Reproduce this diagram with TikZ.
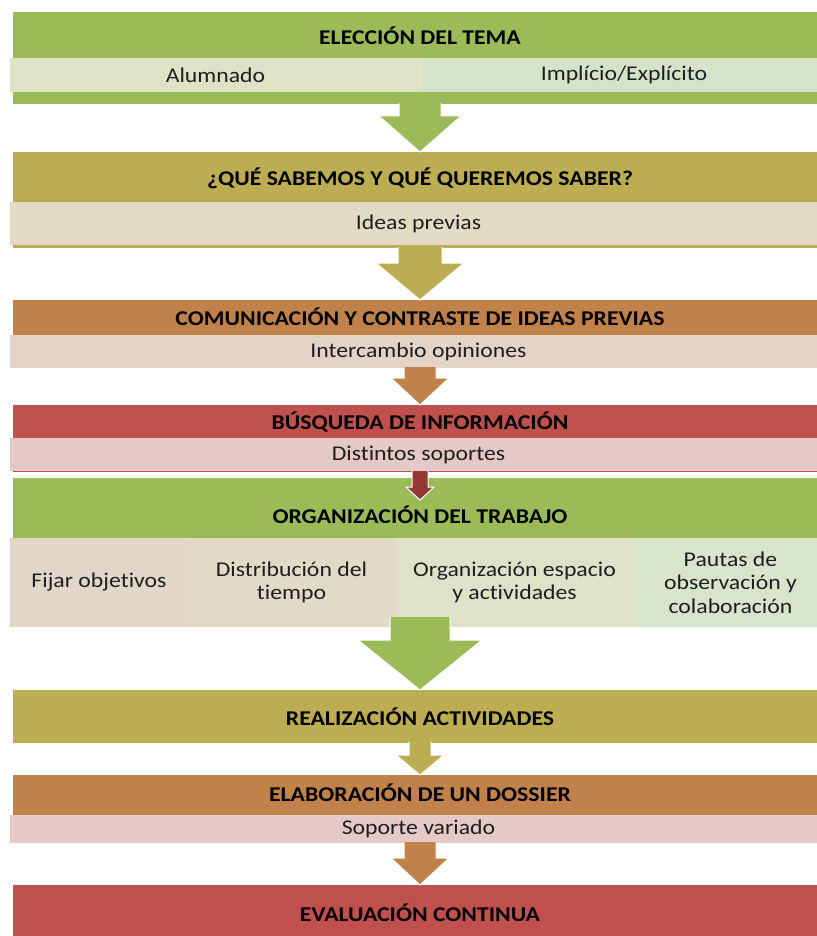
\documentclass[tikz,border=0pt]{standalone}
\usepackage{fontspec}
\setmainfont{Carlito}[FakeStretch=1.13,Ligatures=NoCommon]
\usetikzlibrary{calc}

\definecolor{verde}{HTML}{9BBB59}
\definecolor{oliva}{HTML}{BDAD52}
\definecolor{marron}{HTML}{C0814B}
\definecolor{rojo}{HTML}{C0504D}
\definecolor{granate}{HTML}{953735}
\definecolor{verdeA}{HTML}{DEE2C7}
\definecolor{verdeB}{HTML}{D6E3CB}
\definecolor{olivaA}{HTML}{E2DAC4}
\definecolor{marronA}{HTML}{E4D4C8}
\definecolor{rojoA}{HTML}{E5C8C8}
\definecolor{cajaA}{HTML}{E2D6C8}
\definecolor{cajaB}{HTML}{E0DAC6}
\definecolor{cajaC}{HTML}{DFE2C8}
\definecolor{cajaD}{HTML}{D8E4CB}

\newcommand{\tamano}{\fontsize{21}{23.5}\selectfont}
% colour, from, to, half shaft, half head, head length
\newcommand{\flecha}[6]{%
	\filldraw[fill=#1, draw=white, line width=1pt] let \p1=#2, \p2=#3 in
		(\x1-#4pt,\y1+1pt) -- (\x1-#4pt,\y2+#6pt) -- (\x1-#5pt,\y2+#6pt) -- (\x1,\y2)
		-- (\x1+#5pt,\y2+#6pt) -- (\x1+#4pt,\y2+#6pt) -- (\x1+#4pt,\y1+1pt);
}

\begin{document}
\begin{tikzpicture}[x=1pt,y=-1pt,
	banda/.style={rectangle,anchor=north west,minimum width=814pt,inner sep=0pt,outer sep=0pt},
	titulo/.style={font=\tamano\bfseries,text=black,inner sep=0pt},
	caja/.style={rectangle,anchor=north west,inner sep=2pt,outer sep=0pt,align=center,font=\tamano,text=black!88}]

	\useasboundingbox (0,0) rectangle (816,936);

	\node[banda, fill=verde, minimum height=92pt] (tema) at (13,12) {};
	\node[titulo] (tematit) at (420,36) {ELECCIÓN DEL TEMA};
	\node[caja, fill=verdeA, minimum width=411pt, minimum height=34pt] (alumnado) at (10,58) {Alumnado};
	\node[caja, fill=verdeB, minimum width=406pt, minimum height=34pt] (implicito) at (421,58) {Implício/Explícito};

	\node[banda, fill=oliva, minimum height=96pt] (sabemos) at (13,152) {};
	\node[titulo] (sabemostit) at (420,178) {¿QUÉ SABEMOS Y QUÉ QUEREMOS SABER?};
	\node[caja, fill=olivaA, minimum width=817pt, minimum height=43pt] (ideas) at (10,202) {Ideas previas};

	\node[banda, fill=marron, minimum height=68pt] (contraste) at (13,300) {};
	\node[titulo] (contrastetit) at (420,317) {COMUNICACIÓN Y CONTRASTE DE IDEAS PREVIAS};
	\node[caja, fill=marronA, minimum width=817pt, minimum height=33pt] (opiniones) at (10,335) {Intercambio opiniones};

	\node[banda, fill=rojo, minimum height=67pt] (busqueda) at (13,405) {};
	\node[titulo] (busquedatit) at (420,422) {BÚSQUEDA DE INFORMACIÓN};
	\node[caja, fill=rojoA, minimum width=817pt, minimum height=33pt] (soportes) at (10,438) {Distintos soportes};

	\node[banda, fill=verde, minimum height=140pt] (trabajo) at (13,478) {};
	\node[titulo] (trabajotit) at (420,515) {ORGANIZACIÓN DEL TRABAJO};
	\node[caja, fill=cajaA, minimum width=178pt, minimum height=89pt] (objetivos) at (10,538) {Fijar objetivos};
	\node[caja, fill=cajaB, minimum width=207pt, minimum height=89pt] (tiempo) at (188,538) {Distribución del\\tiempo};
	\node[caja, fill=cajaC, minimum width=239pt, minimum height=89pt] (espacio) at (395,538) {Organización espacio\\y actividades};
	\node[caja, fill=cajaD, minimum width=193pt, minimum height=89pt] (pautas) at (634,538) {Pautas de\\observación y\\colaboración};

	\node[banda, fill=oliva, minimum height=53pt] (realizacion) at (13,690) {};
	\node[titulo] (realizaciontit) at (420,717) {REALIZACIÓN ACTIVIDADES};

	\node[banda, fill=marron, minimum height=68pt] (dossier) at (13,775) {};
	\node[titulo] (dossiertit) at (420,793) {ELABORACIÓN DE UN DOSSIER};
	\node[caja, fill=rojoA, minimum width=817pt, minimum height=28pt] (variado) at (10,815) {Soporte variado};

	\node[banda, fill=rojo, minimum height=55pt] (evaluacion) at (13,885) {};
	\node[titulo] (evaluaciontit) at (420,913) {EVALUACIÓN CONTINUA};

	\flecha{verde}{(tema.south)}{(sabemos.north)}{21}{41}{36}
	\flecha{oliva}{(sabemos.south)}{(contraste.north)}{22}{44}{37}
	\flecha{marron}{(contraste.south)}{(busqueda.north)}{16}{29}{27}
	\flecha{granate}{(busqueda.south)}{($(trabajo.north)+(0,22)$)}{8}{14}{13}
	\flecha{verde}{(trabajo.south)}{(realizacion.north)}{30}{62}{50}
	\flecha{oliva}{(realizacion.south)}{(dossier.north)}{11}{24}{20}
	\flecha{marron}{(dossier.south)}{(evaluacion.north)}{16}{29}{27}

\end{tikzpicture}
\end{document}
